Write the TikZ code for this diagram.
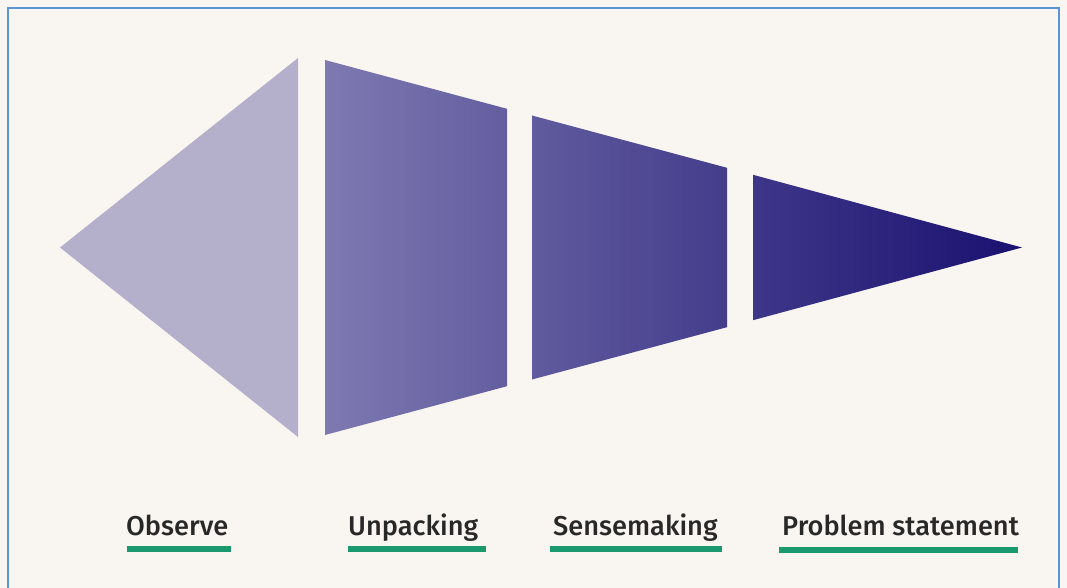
\documentclass[tikz,border=0pt]{standalone}
\usepackage{fontspec}
\setmainfont{Fira Sans}[UprightFont={* Medium}]
\definecolor{bgc}{RGB}{249,246,241}
\definecolor{framec}{RGB}{90,150,215}
\definecolor{tric}{RGB}{180,176,204}
\definecolor{cA}{RGB}{126,121,177}
\definecolor{cB}{RGB}{100,94,160}
\definecolor{cC}{RGB}{96,90,158}
\definecolor{cD}{RGB}{68,61,139}
\definecolor{cE}{RGB}{62,54,136}
\definecolor{cF}{RGB}{26,17,112}
\definecolor{txtc}{RGB}{40,40,40}
\definecolor{ulc}{RGB}{26,152,110}
\begin{document}
\begin{tikzpicture}[x=1pt,y=-1pt,
  lbl/.style={anchor=base west,inner sep=0pt,font=\fontsize{27.2}{32}\selectfont,text=txtc},
  ul/.style={draw=ulc,line width=6pt}]
\useasboundingbox (0,0) rectangle (1067,588);
\fill[bgc] (0,0) rectangle (1067,588);
\draw[framec,line width=2.2pt] (8,600) -- (8,8) -- (1059,8) -- (1059,600);
% shapes
\fill[tric] (60,247.5) -- (298,58) -- (298,437) -- cycle;
\shade[left color=cA,right color=cB] (325,60) -- (507,108.8) -- (507,386.2) -- (325,435) -- cycle;
\shade[left color=cC,right color=cD] (532,115.5) -- (727,167.8) -- (727,327.2) -- (532,379.5) -- cycle;
\shade[left color=cE,right color=cF] (753,174.8) -- (1022,247.5) -- (753,320.2) -- cycle;
% labels
\node[lbl] (o) at (126,535) {Observe};
\node[lbl] (u) at (348,535) {Unpacking};
\node[lbl] (s) at (553,535) {Sensemaking};
\node[lbl] (p) at (782,535) {Problem statement};
\draw[ul] (127,548.5) -- (231,548.5);
\draw[ul] (348,548.5) -- (486,548.5);
\draw[ul] (550,548.5) -- (722,548.5);
\draw[ul] (779,549.5) -- (1018,549.5);
\end{tikzpicture}
\end{document}
